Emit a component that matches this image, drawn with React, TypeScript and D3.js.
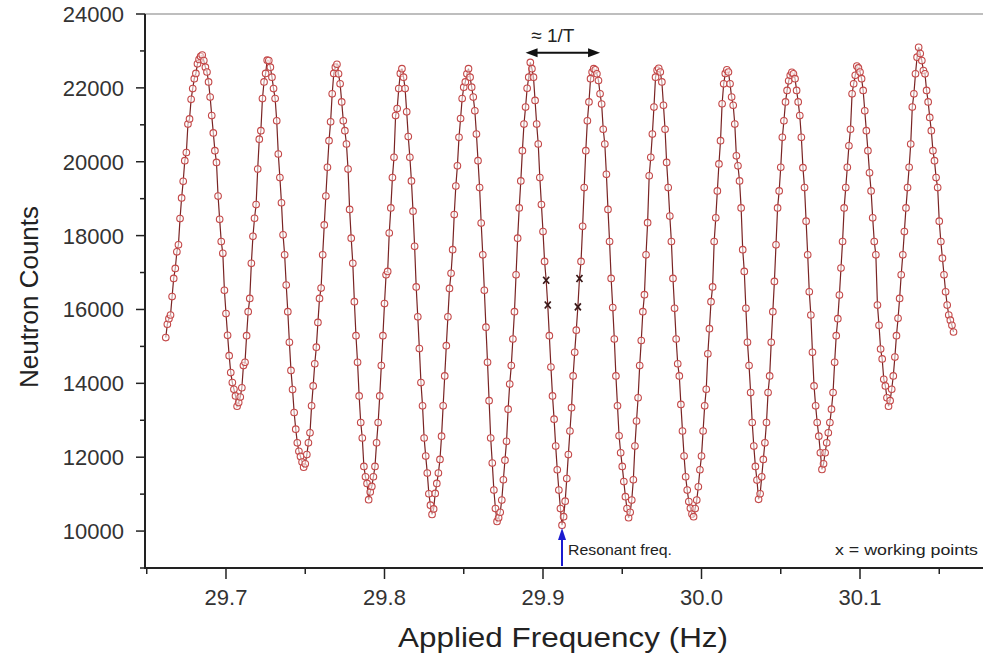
import React from 'react'
import * as d3 from 'd3'

// frequency sweep: first setting and step of the scan (Hz)
const FREQ_START = 29.662
const FREQ_STEP = 0.001

// neutron counts, one per frequency setting
const neutronCounts = [
  15240, 15600, 15750, 15850, 16350, 16840, 17110, 17560, 17750, 18460, 19020, 19470, 20030, 20250, 21020, 21160, 21690, 21980, 22250, 22390, 22650, 22770, 22850,
  22890, 22740, 22560, 22430, 22160, 21750, 21250, 20780, 20300, 19980, 19070, 18440, 17840, 17520, 16520, 15890, 15300, 14750, 14290, 14020, 13840, 13660, 13380,
  13480, 13630, 13880, 14480, 14570, 15290, 15940, 16300, 17250, 17980, 18470, 18840, 19800, 20610, 20840, 21710, 22160, 22390, 22750,
  22740, 22560, 22290, 21980, 21710, 21110, 20210, 19570, 18890, 18020, 17480, 16660, 15940, 15110, 14350, 13830, 13210, 12760, 12390, 12160, 12020, 11870, 11730,
  11820, 12070, 12390, 12660, 13390, 13930, 14530, 14980, 15650, 16300, 16580, 17480, 18290, 19070, 19850, 20570, 21080, 21840, 22390,
  22560, 22640, 22380, 22110, 21620, 21110, 20840, 20480, 19800, 18710, 17930, 17250, 16210, 15290, 14570, 13660, 12940, 12520, 11750, 11470, 11290, 10850,
  11060, 11210, 11470, 11750, 12390, 12940, 13660, 14480, 15290, 16160, 16940, 17030, 18070, 18750, 19570, 20120, 21250, 21440, 21980, 22390,
  22520, 22290, 21980, 21350, 20680, 20120, 19480, 18660, 17710, 16610, 15800, 14940, 14020, 13390, 12520, 12030, 11570, 11010, 10700, 10450,
  10600, 11020, 11290, 11570, 11940, 12570, 13390, 14200, 15020, 15800, 16570, 16980, 17620, 18570, 19340, 19890, 20660, 21170, 21710, 22020, 22160, 22380,
  22520, 22290, 22020, 21750, 21380, 20750, 20030, 19300, 18340, 17480, 16520, 15520, 14570, 13530, 12520, 11840, 11110, 10610, 10260,
  10360, 10510, 10840, 11390, 11920, 12430, 13300, 13980, 14480, 15200, 15940, 16940, 17930, 18750, 19480, 20300, 21020, 21480, 21990, 22290,
  22690, 22520, 22290, 21660, 21020, 20480, 19570, 18840, 18110, 17300, 16790, 16120, 15290, 14440, 13660, 13030, 12300, 11660, 11110, 10610, 10160,
  10390, 10810, 11420, 12070, 12710, 13340, 14200, 14840, 15440, 16070, 16840, 17300, 18250, 19300, 20300, 21110, 21620, 22250, 22430,
  22520, 22490, 22380, 22200, 21840, 21560, 20880, 20480, 19660, 18710, 17840, 16840, 16050, 15200, 14200, 13390, 12580, 12120, 11750, 11340, 10930, 10610, 10360,
  10510, 10840, 11390, 12300, 12980, 13610, 14480, 15160, 15940, 16400, 17480, 18350, 19620, 20120, 20750, 21480, 22290, 22480,
  22530, 22430, 22160, 21530, 20880, 19980, 19300, 18530, 17840, 16840, 16030, 15200, 14530, 14200, 13430, 12710, 12030, 11470, 11110, 10800, 10620, 10460, 10390,
  10610, 10840, 11200, 11660, 12030, 12710, 13390, 13840, 14800, 15480, 16210, 16610, 17840, 18480, 19210, 19940, 20570, 21570, 22110, 22390,
  22490, 22430, 22110, 21750, 21530, 21020, 20160, 19890, 19480, 18750, 17620, 17030, 16030, 15110, 14480, 13750, 12940, 12300, 11750, 11380, 10860,
  11010, 11470, 11940, 12390, 12940, 13750, 14200, 15110, 15940, 16760, 17750, 18750, 19210, 19850, 20660, 21110, 21620, 21930, 22190, 22340,
  22420, 22380, 22250, 21930, 21620, 21250, 20660, 19840, 19300, 18390, 17480, 16480, 15850, 14840, 13930, 13390, 12940, 12570, 12120, 11670,
  11820, 12120, 12390, 12660, 12940, 13300, 13750, 14570, 15290, 15750, 16390, 17120, 17840, 18750, 19300, 19850, 20430, 20880, 21840, 22110, 22340, 22590,
  22540, 22430, 22250, 21930, 21380, 20840, 20300, 19700, 19210, 18480, 17840, 17480, 16120, 15570, 14930, 14660, 14110, 13930, 13610, 13380,
  13530, 13840, 14200, 14710, 15290, 15760, 16300, 16940, 17480, 18110, 18750, 19300, 19850, 20480, 21480, 21840, 22380, 22830, 23100,
  22930, 22740, 22470, 22380, 21930, 21620, 21200, 20840, 20300, 20030, 19570, 19300, 18390, 17840, 17390, 16940, 16480, 16120, 15850, 15710, 15570, 15390,
]

const xMajorTicks = [29.7, 29.8, 29.9, 30.0, 30.1]
const xMinorTicks = [29.65, 29.75, 29.85, 29.95, 30.05, 30.15]
const yMajorTicks = [10000, 12000, 14000, 16000, 18000, 20000, 22000, 24000]
const yMinorTicks = [9000, 11000, 13000, 15000, 17000, 19000, 21000, 23000]

// working points marked with x
const workingFreqs = [29.902, 29.903, 29.922, 29.923]
const workingCounts = [16790, 16120, 16070, 16840]

// "≈ 1/T" arrow span and resonant frequency marker
const periodSpan = [29.889, 29.936]
const periodArrowCount = 22950
const resonantFreq = 29.912
const resonantArrowTop = 10080

const W = 983
const H = 660
const margin = { top: 14, right: 0, bottom: 92, left: 145 }
const FONT = '"Liberation Sans", Arial, Helvetica, sans-serif'

export default function App() {
  const x = d3.scaleLinear().domain([29.6489, 30.1776]).range([margin.left, W - margin.right])
  const y = d3.scaleLinear().domain([9000, 24000]).range([H - margin.bottom, margin.top])

  const points = neutronCounts.map((c, i) => ({ f: FREQ_START + i * FREQ_STEP, c }))
  const line = d3.line<{ f: number; c: number }>().x(d => x(d.f)).y(d => y(d.c))

  const isWorking = (f: number) => workingFreqs.some(w => Math.abs(w - f) < 0.0004)

  const x0 = margin.left
  const yBase = H - margin.bottom
  const pa = x(periodSpan[0])
  const pb = x(periodSpan[1])
  const py = y(periodArrowCount)
  const rx = x(resonantFreq)
  const ry = y(resonantArrowTop)

  return (
    <div style={{ position: 'fixed', left: 0, top: 0, background: '#fff' }}>
      <svg width={W} height={H} style={{ display: 'block' }}>
        <rect width={W} height={H} fill='#fff' />

        {/* top frame */}
        <line x1={x0} x2={W} y1={y(24000)} y2={y(24000)} stroke='#a8a8a8' strokeWidth={1.5} />

        {/* data */}
        <path d={line(points) || ''} fill='none' stroke='#7a2424' strokeWidth={1.2} />
        <g fill='#fff' fillOpacity={0.55} stroke='#c44848' strokeWidth={1.1}>
          {points.filter(p => !isWorking(p.f)).map((p, i) => (
            <circle key={i} cx={x(p.f)} cy={y(p.c)} r={3.3} />
          ))}
        </g>
        <g stroke='#3a1818' strokeWidth={1.7}>
          {workingFreqs.map((f, i) => {
            const cx = x(f)
            const cy = y(workingCounts[i])
            return (
              <g key={i}>
                <line x1={cx - 3} x2={cx + 3} y1={cy - 3.5} y2={cy + 3.5} />
                <line x1={cx - 3} x2={cx + 3} y1={cy + 3.5} y2={cy - 3.5} />
              </g>
            )
          })}
        </g>

        {/* y axis */}
        <line x1={x0} x2={x0} y1={y(24000)} y2={yBase + 1} stroke='#222' strokeWidth={2} />
        {yMajorTicks.map(t => (
          <g key={t}>
            <line x1={x0 - 9} x2={x0} y1={y(t)} y2={y(t)} stroke='#222' strokeWidth={1.5} />
            <text x={x0 - 21} y={y(t)} dy='0.36em' textAnchor='end' fontFamily={FONT} fontSize={22} fill='#333'>
              {String(t)}
            </text>
          </g>
        ))}
        {yMinorTicks.map(t => (
          <line key={t} x1={x0 - 5} x2={x0} y1={y(t)} y2={y(t)} stroke='#222' strokeWidth={1.5} />
        ))}

        {/* x axis */}
        <line x1={x0 - 1} x2={W} y1={yBase} y2={yBase} stroke='#222' strokeWidth={2} />
        {xMajorTicks.map(t => (
          <g key={t}>
            <line x1={x(t)} x2={x(t)} y1={yBase} y2={yBase + 11} stroke='#222' strokeWidth={1.5} />
            <text x={x(t)} y={yBase + 37} textAnchor='middle' fontFamily={FONT} fontSize={22} fill='#333'>
              {d3.format('.1f')(t)}
            </text>
          </g>
        ))}
        {xMinorTicks.map(t => (
          <line key={t} x1={x(t)} x2={x(t)} y1={yBase} y2={yBase + 6} stroke='#222' strokeWidth={1.5} />
        ))}

        {/* axis titles */}
        <text transform={`translate(38,${(y(24000) + yBase) / 2 + 6}) rotate(-90)`} textAnchor='middle'
          fontFamily={FONT} fontSize={26} fill='#222'>Neutron Counts</text>
        <text x={563} y={H - 13} textAnchor='middle' fontFamily={FONT} fontSize={27} fill='#222'
          textLength={330} lengthAdjust='spacingAndGlyphs'>
          Applied Frequency (Hz)
        </text>

        {/* period arrow */}
        <line x1={pa + 6} x2={pb - 6} y1={py} y2={py} stroke='#111' strokeWidth={2} />
        <path d={`M${pa},${py} L${pa + 12},${py - 4.5} L${pa + 12},${py + 4.5} Z`} fill='#111' />
        <path d={`M${pb},${py} L${pb - 12},${py - 4.5} L${pb - 12},${py + 4.5} Z`} fill='#111' />
        <text x={(pa + pb) / 2 - 10} y={py - 11} textAnchor='middle' fontFamily={FONT} fontSize={19} fill='#222'>
          ≈ 1/T
        </text>

        {/* resonant frequency arrow */}
        <line x1={rx} x2={rx} y1={yBase - 2} y2={ry + 8} stroke='#1b1bd0' strokeWidth={2} />
        <path d={`M${rx},${ry} L${rx - 4},${ry + 12} L${rx + 4},${ry + 12} Z`} fill='#1b1bd0' />
        <text x={rx + 6} y={yBase - 13} fontFamily={FONT} fontSize={15} fill='#222'
          textLength={104} lengthAdjust='spacingAndGlyphs'>Resonant freq.</text>

        <text x={835} y={yBase - 13} fontFamily={FONT} fontSize={15} fill='#222'
          textLength={143} lengthAdjust='spacingAndGlyphs'>
          x = working points
        </text>
      </svg>
    </div>
  )
}
